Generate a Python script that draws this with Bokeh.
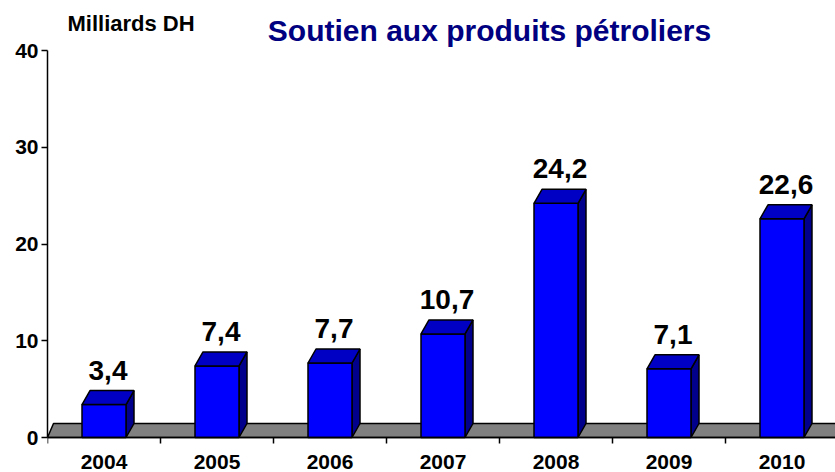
from bokeh.plotting import figure
from bokeh.models import Range1d, FixedTicker, Label, ColumnDataSource
from bokeh.core.properties import value
from bokeh.embed import file_html
from bokeh.resources import INLINE

years = ["2004", "2005", "2006", "2007", "2008", "2009", "2010"]
values = [3.4, 7.4, 7.7, 10.7, 24.2, 7.1, 22.6]
y_ticks = [0, 10, 20, 30, 40]

FONT = "Liberation Sans"
FRONT = "#0000FF"
TOP = "#0000C4"
SIDE = "#00008C"
FLOOR = "#808080"

# picture geometry (pixels from the picture's top-left corner)
W, H = 835, 472
ML = 47
Y0_PX, Y40_PX = 437, 50
cat_px = 113.0
frame_w = W - ML
xmax = frame_w / cat_px
ppu = (Y0_PX - Y40_PX) / 40.0
ymin = -(H - Y0_PX) / ppu
ymax = 40 + Y40_PX / ppu

DX = 8 / cat_px
DY = 14 / ppu
BW = 44 / cat_px
TICK = 6 / ppu

p = figure(width=W, height=H, output_backend="svg", toolbar_location=None,
           x_range=Range1d(0, xmax), y_range=Range1d(ymin, ymax),
           min_border_left=ML, min_border_right=0, min_border_top=0, min_border_bottom=0)
p.outline_line_color = None
p.xgrid.grid_line_color = None
p.ygrid.grid_line_color = None
p.xaxis.visible = False
p.background_fill_color = "white"

# floor
p.patch([0, xmax + 1, xmax + 1 + DX, DX * 0.75], [0, 0, DY, DY],
        fill_color=FLOOR, line_color="black", line_width=1.5)

centers = [i + 0.5 for i in range(len(years))]
for c, v in zip(centers, values):
    l, r = c - BW / 2, c + BW / 2
    p.patch([r, r, r + DX, r + DX], [0, v, v + DY, DY], fill_color=SIDE, line_color="black", line_width=1.5)
    p.patch([l, r, r, l], [0, 0, v, v], fill_color=FRONT, line_color="black", line_width=1.5)
    p.patch([l, r, r + DX, l + DX], [v, v, v + DY, v + DY], fill_color=TOP, line_color="black", line_width=1.5)

# value labels
lab = ColumnDataSource(dict(
    x=[c + DX / 2 for c in centers],
    y=[v + DY + 11 / ppu for v in values],
    t=[f"{v:.1f}".replace(".", ",") for v in values]))
p.text("x", "y", text="t", source=lab, text_font=value(FONT), text_font_style="bold",
       text_font_size="28px", text_align="center", text_baseline="bottom", text_color="black")

# category axis (drawn inside the frame)
bounds = list(range(len(years)))
p.segment(x0=bounds, y0=[0] * len(bounds), x1=bounds, y1=[-TICK] * len(bounds),
          line_color="black", line_width=1.5)
p.segment(x0=[0], y0=[0], x1=[xmax], y1=[0], line_color="black", line_width=1.5)
xl = ColumnDataSource(dict(x=centers, y=[-(468 - Y0_PX) / ppu] * len(years), t=years))
p.text("x", "y", text="t", source=xl, text_font=value(FONT), text_font_style="bold",
       text_font_size="21px", text_align="center", text_baseline="bottom", text_color="black")

# value axis
ya = p.yaxis[0]
ya.ticker = FixedTicker(ticks=y_ticks, minor_ticks=[])
ya.bounds = (0, 40)
ya.major_tick_out = 6
ya.major_tick_in = 0
ya.major_tick_line_width = 1.5
ya.axis_line_width = 1.5
ya.axis_line_color = "black"
ya.major_label_standoff = 3
ya.major_label_text_font = FONT
ya.major_label_text_font_style = "bold"
ya.major_label_text_font_size = "21px"
ya.major_label_text_color = "black"

p.add_layout(Label(x=(67 - ML) / cat_px, y=40 + (Y40_PX - 35) / ppu, text="Milliards DH",
                   text_font=FONT, text_font_style="bold", text_font_size="22px",
                   text_baseline="bottom", text_color="black"))
p.add_layout(Label(x=(489 - ML) / cat_px, y=40 + (Y40_PX - 46) / ppu,
                   text="Soutien aux produits pétroliers",
                   text_font=FONT, text_font_style="bold", text_font_size="30px",
                   text_align="center", text_baseline="bottom", text_color="#000080"))

open("out.html", "w").write(file_html(p, INLINE))
